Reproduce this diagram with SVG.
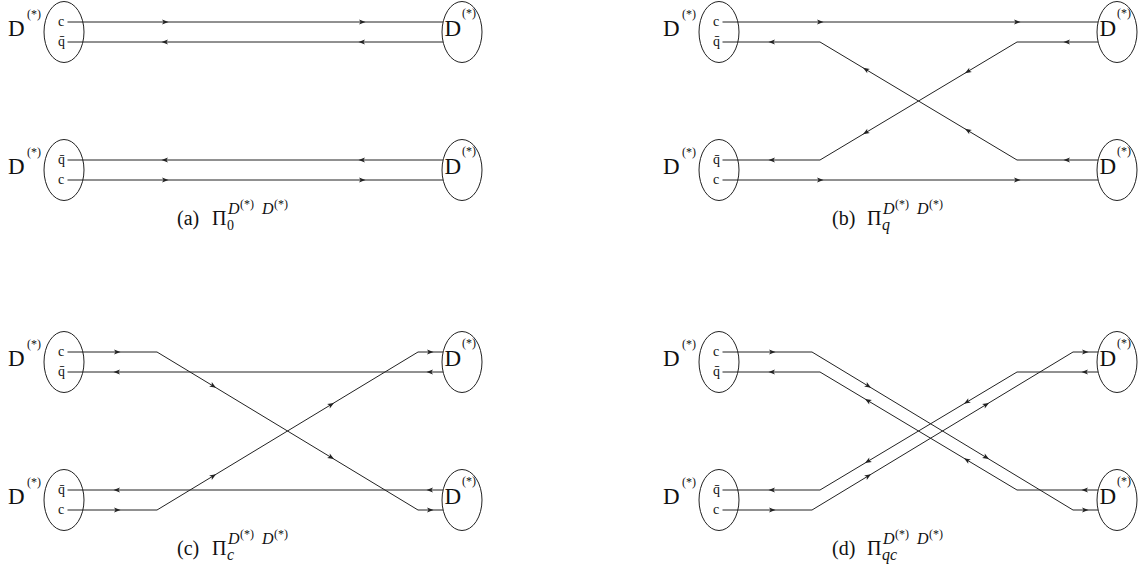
<svg xmlns="http://www.w3.org/2000/svg" xmlns:xlink="http://www.w3.org/1999/xlink" width="1141" height="574" viewBox="0 0 1141 574" font-family="'Liberation Serif', 'Times New Roman', serif">
<defs>
<style>
.el{fill:none;stroke:#222;stroke-width:1}
.ln{fill:none;stroke:#222;stroke-width:1}
text{font-family:"Liberation Serif","Times New Roman",serif;fill:#111}
.D{font-size:23px}
.sup{font-size:12px}
.q{font-size:14px}
.cap{font-size:20px}
.cs{font-size:16px;font-style:italic}
.cs0{font-size:14px}
.css{font-size:12px}
.ah{fill:#222}
</style>
<path id="ah" class="ah" d="M3.5,0 L-3,-2.6 L-1.4,0 L-3,2.6 Z"/>
</defs>
<rect width="1141" height="574" fill="#fff"/>

<!-- Panel (a) -->
<g id="panel-a">
<g id="a-L-top"><ellipse class="el" cx="64" cy="32" rx="20" ry="30.5"/><text class="D" x="8" y="35.5">D</text><text class="sup" x="27" y="18">(*)</text><text class="q" x="58" y="26">c</text><text class="q" x="58" y="45.5">q̄</text></g>
<g id="a-L-bot"><ellipse class="el" cx="64" cy="170" rx="20" ry="30.5"/><text class="D" x="8" y="173.5">D</text><text class="sup" x="27" y="156">(*)</text><text class="q" x="58" y="164">q̄</text><text class="q" x="58" y="184">c</text></g>
<g id="a-R-top"><ellipse class="el" cx="462" cy="32" rx="20" ry="30.5"/><text class="D" x="444.5" y="36">D</text><text class="sup" x="462" y="17">(*)</text></g>
<g id="a-R-bot"><ellipse class="el" cx="462" cy="170" rx="20" ry="30.5"/><text class="D" x="444.5" y="174">D</text><text class="sup" x="462" y="155">(*)</text></g>
<g id="a-caption"><text class="cap" x="177" y="225">(a)</text><text class="cap" x="212" y="225">Π</text><text class="cs0" x="227" y="230">0</text><text class="cs" x="228" y="214">D</text><text class="css" x="240" y="208">(*)</text><text class="cs" x="262" y="214">D</text><text class="css" x="274" y="208">(*)</text></g>
</g>

<!-- Panel (b) -->
<g id="panel-b" transform="translate(655,0)">
<g id="b-L-top"><ellipse class="el" cx="64" cy="32" rx="20" ry="30.5"/><text class="D" x="8" y="35.5">D</text><text class="sup" x="27" y="18">(*)</text><text class="q" x="58" y="26">c</text><text class="q" x="58" y="45.5">q̄</text></g>
<g id="b-L-bot"><ellipse class="el" cx="64" cy="170" rx="20" ry="30.5"/><text class="D" x="8" y="173.5">D</text><text class="sup" x="27" y="156">(*)</text><text class="q" x="58" y="164">q̄</text><text class="q" x="58" y="184">c</text></g>
<g id="b-R-top"><ellipse class="el" cx="462" cy="32" rx="20" ry="30.5"/><text class="D" x="444.5" y="36">D</text><text class="sup" x="462" y="17">(*)</text></g>
<g id="b-R-bot"><ellipse class="el" cx="462" cy="170" rx="20" ry="30.5"/><text class="D" x="444.5" y="174">D</text><text class="sup" x="462" y="155">(*)</text></g>
<g id="b-caption"><text class="cap" x="177" y="225">(b)</text><text class="cap" x="212" y="225">Π</text><text class="cs" x="227" y="230">q</text><text class="cs" x="228" y="214">D</text><text class="css" x="240" y="208">(*)</text><text class="cs" x="262" y="214">D</text><text class="css" x="274" y="208">(*)</text></g>
</g>

<!-- Panel (c) -->
<g id="panel-c" transform="translate(0,330)">
<g id="c-L-top"><ellipse class="el" cx="64" cy="32" rx="20" ry="30.5"/><text class="D" x="8" y="35.5">D</text><text class="sup" x="27" y="18">(*)</text><text class="q" x="58" y="26">c</text><text class="q" x="58" y="45.5">q̄</text></g>
<g id="c-L-bot"><ellipse class="el" cx="64" cy="170" rx="20" ry="30.5"/><text class="D" x="8" y="173.5">D</text><text class="sup" x="27" y="156">(*)</text><text class="q" x="58" y="164">q̄</text><text class="q" x="58" y="184">c</text></g>
<g id="c-R-top"><ellipse class="el" cx="462" cy="32" rx="20" ry="30.5"/><text class="D" x="444.5" y="36">D</text><text class="sup" x="462" y="17">(*)</text></g>
<g id="c-R-bot"><ellipse class="el" cx="462" cy="170" rx="20" ry="30.5"/><text class="D" x="444.5" y="174">D</text><text class="sup" x="462" y="155">(*)</text></g>
<g id="c-caption"><text class="cap" x="177" y="225">(c)</text><text class="cap" x="212" y="225">Π</text><text class="cs" x="227" y="230">c</text><text class="cs" x="228" y="214">D</text><text class="css" x="240" y="208">(*)</text><text class="cs" x="262" y="214">D</text><text class="css" x="274" y="208">(*)</text></g>
</g>

<!-- Panel (d) -->
<g id="panel-d" transform="translate(655,330)">
<g id="d-L-top"><ellipse class="el" cx="64" cy="32" rx="20" ry="30.5"/><text class="D" x="8" y="35.5">D</text><text class="sup" x="27" y="18">(*)</text><text class="q" x="58" y="26">c</text><text class="q" x="58" y="45.5">q̄</text></g>
<g id="d-L-bot"><ellipse class="el" cx="64" cy="170" rx="20" ry="30.5"/><text class="D" x="8" y="173.5">D</text><text class="sup" x="27" y="156">(*)</text><text class="q" x="58" y="164">q̄</text><text class="q" x="58" y="184">c</text></g>
<g id="d-R-top"><ellipse class="el" cx="462" cy="32" rx="20" ry="30.5"/><text class="D" x="444.5" y="36">D</text><text class="sup" x="462" y="17">(*)</text></g>
<g id="d-R-bot"><ellipse class="el" cx="462" cy="170" rx="20" ry="30.5"/><text class="D" x="444.5" y="174">D</text><text class="sup" x="462" y="155">(*)</text></g>
<g id="d-caption"><text class="cap" x="177" y="225">(d)</text><text class="cap" x="212" y="225">Π</text><text class="cs" x="227" y="230">qc</text><text class="cs" x="228" y="214">D</text><text class="css" x="240" y="208">(*)</text><text class="cs" x="262" y="214">D</text><text class="css" x="274" y="208">(*)</text></g>
</g>

<!-- Connectors -->
<g id="connectors">
<g transform="translate(0,0)">
<path class="ln" d="M67.5,22H443"/><path class="ln" d="M67.5,42H443"/><path class="ln" d="M67.5,160H443"/><path class="ln" d="M67.5,180H443"/>
<use xlink:href="#ah" transform="translate(165,22)"/><use xlink:href="#ah" transform="translate(362,22)"/>
<use xlink:href="#ah" transform="translate(165,42) rotate(180)"/><use xlink:href="#ah" transform="translate(362,42) rotate(180)"/>
<use xlink:href="#ah" transform="translate(165,160) rotate(180)"/><use xlink:href="#ah" transform="translate(362,160) rotate(180)"/>
<use xlink:href="#ah" transform="translate(165,180)"/><use xlink:href="#ah" transform="translate(362,180)"/>
</g>
<g transform="translate(655,0)">
<path class="ln" d="M67.5,22H443"/><path class="ln" d="M67.5,180H443"/>
<path class="ln" d="M443,42H362L165,160H67.5"/>
<path class="ln" d="M443,160H362L165,42H67.5"/>
<use xlink:href="#ah" transform="translate(165,22)"/><use xlink:href="#ah" transform="translate(362,22)"/>
<use xlink:href="#ah" transform="translate(165,180)"/><use xlink:href="#ah" transform="translate(362,180)"/>
<use xlink:href="#ah" transform="translate(412,42) rotate(180)"/><use xlink:href="#ah" transform="translate(313,71.4) rotate(149.1)"/><use xlink:href="#ah" transform="translate(211,132.4) rotate(149.1)"/><use xlink:href="#ah" transform="translate(117,160) rotate(180)"/>
<use xlink:href="#ah" transform="translate(412,160) rotate(180)"/><use xlink:href="#ah" transform="translate(313,130.6) rotate(210.9)"/><use xlink:href="#ah" transform="translate(211,69.6) rotate(210.9)"/><use xlink:href="#ah" transform="translate(117,42) rotate(180)"/>
</g>
<g transform="translate(0,330)">
<path class="ln" d="M67.5,42H443"/><path class="ln" d="M67.5,160H443"/>
<path class="ln" d="M67.5,22H157L418,180H443"/>
<path class="ln" d="M67.5,180H157L418,22H443"/>
<use xlink:href="#ah" transform="translate(117,42) rotate(180)"/><use xlink:href="#ah" transform="translate(430,42) rotate(180)"/>
<use xlink:href="#ah" transform="translate(117,160) rotate(180)"/><use xlink:href="#ah" transform="translate(430,160) rotate(180)"/>
<use xlink:href="#ah" transform="translate(117,22)"/><use xlink:href="#ah" transform="translate(213,55.9) rotate(31.2)"/><use xlink:href="#ah" transform="translate(331,127.3) rotate(31.2)"/><use xlink:href="#ah" transform="translate(430,180)"/>
<use xlink:href="#ah" transform="translate(117,180)"/><use xlink:href="#ah" transform="translate(213,146.1) rotate(-31.2)"/><use xlink:href="#ah" transform="translate(331,74.7) rotate(-31.2)"/><use xlink:href="#ah" transform="translate(430,22)"/>
</g>
<g transform="translate(655,330)">
<path class="ln" d="M67.5,22H157L418,180H443"/>
<path class="ln" d="M67.5,180H157L418,22H443"/>
<path class="ln" d="M443,160H362L165,42H67.5"/>
<path class="ln" d="M443,42H362L165,160H67.5"/>
<use xlink:href="#ah" transform="translate(117,22)"/><use xlink:href="#ah" transform="translate(213,55.9) rotate(31.2)"/><use xlink:href="#ah" transform="translate(331,127.3) rotate(31.2)"/><use xlink:href="#ah" transform="translate(430,180)"/>
<use xlink:href="#ah" transform="translate(117,180)"/><use xlink:href="#ah" transform="translate(213,146.1) rotate(-31.2)"/><use xlink:href="#ah" transform="translate(331,74.7) rotate(-31.2)"/><use xlink:href="#ah" transform="translate(430,22)"/>
<use xlink:href="#ah" transform="translate(430,160) rotate(180)"/><use xlink:href="#ah" transform="translate(312,130.1) rotate(210.9)"/><use xlink:href="#ah" transform="translate(213,70.8) rotate(210.9)"/><use xlink:href="#ah" transform="translate(117,42) rotate(180)"/>
<use xlink:href="#ah" transform="translate(430,42) rotate(180)"/><use xlink:href="#ah" transform="translate(312,71.9) rotate(149.1)"/><use xlink:href="#ah" transform="translate(213,131.2) rotate(149.1)"/><use xlink:href="#ah" transform="translate(117,160) rotate(180)"/>
</g>
</g>
</svg>
